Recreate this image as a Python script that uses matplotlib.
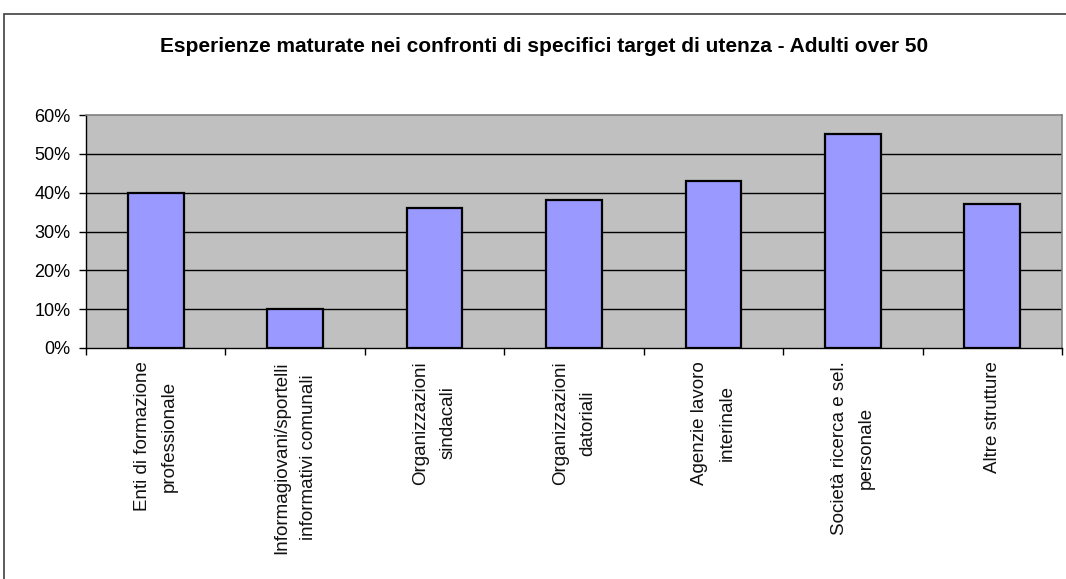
import matplotlib
matplotlib.use('Agg')
import matplotlib.pyplot as plt
from matplotlib.patches import Rectangle
from matplotlib.ticker import PercentFormatter

categories = [
    'Enti di formazione\nprofessionale',
    'Informagiovani/sportelli\ninformativi comunali',
    'Organizzazioni\nsindacali',
    'Organizzazioni\ndatoriali',
    'Agenzie lavoro\ninterinale',
    'Società ricerca e sel.\npersonale',
    'Altre strutture',
]
values = [40, 10, 36, 38, 43, 55, 37]
y_ticks = [0, 10, 20, 30, 40, 50, 60]

plt.rcParams['font.family'] = ['Liberation Sans', 'DejaVu Sans']

W, H = 1066, 579
fig = plt.figure(figsize=(W / 100, H / 100), dpi=100)

# outer chart frame, runs off the right and bottom edges
fig.patches.append(Rectangle((4 / W, -0.1), 1.2, (H - 14) / H + 0.1,
                             transform=fig.transFigure, fill=False,
                             edgecolor='#404040', linewidth=1.2))

ax = fig.add_axes([86 / W, (H - 348) / H, 976 / W, 233 / H])
ax.set_facecolor('#C0C0C0')

x = list(range(len(categories)))
ax.bar(x, values, width=0.4, color='#9999FF', edgecolor='black',
       linewidth=1.6, zorder=3)

ax.set_xlim(-0.5, len(categories) - 0.5)
ax.set_ylim(0, 60)
ax.set_yticks(y_ticks)
ax.yaxis.set_major_formatter(PercentFormatter(decimals=0))
ax.tick_params(axis='y', direction='out', length=5, width=1, pad=6,
               labelsize=13, colors='black')

for yv in y_ticks[1:-1]:
    ax.axhline(yv, color='black', linewidth=1, zorder=1)

# ticks between categories, labels under the bar centres
ax.set_xticks([i - 0.5 for i in range(len(categories) + 1)])
ax.set_xticklabels([])
ax.tick_params(axis='x', direction='out', length=5, width=1)
for i, lab in enumerate(categories):
    ax.annotate(lab, xy=(i, 0), xycoords=('data', 'axes fraction'),
                xytext=(0, -13), textcoords='offset pixels',
                rotation=90, ha='center', va='top', multialignment='center',
                fontsize=13.5, linespacing=1.8, color='#111111')

for side in ['top', 'right']:
    ax.spines[side].set_color('#808080')
    ax.spines[side].set_linewidth(1.2)
for side in ['left', 'bottom']:
    ax.spines[side].set_color('black')
    ax.spines[side].set_linewidth(1)

fig.text(544 / W, (H - 47) / H,
         'Esperienze maturate nei confronti di specifici target di utenza - Adulti over 50',
         ha='center', va='center', fontsize=15, fontweight='bold')

fig.savefig('out.png', dpi=100)
